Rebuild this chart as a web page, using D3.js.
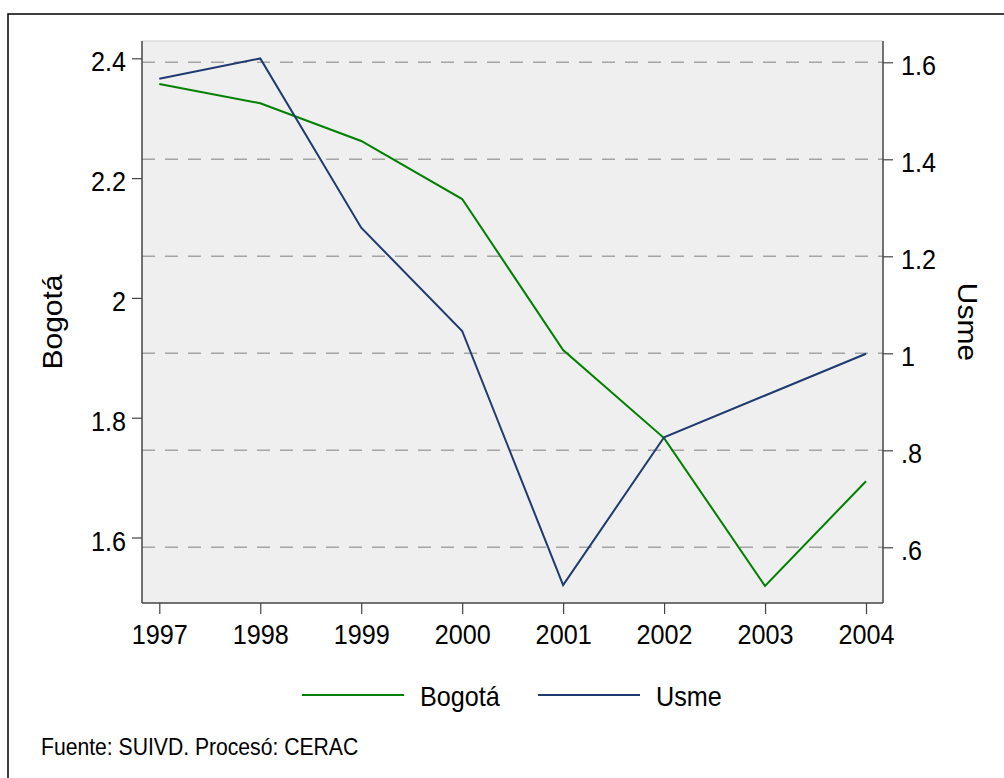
<!DOCTYPE html>
<html>
<head>
<meta charset="utf-8">
<script src="https://cdn.jsdelivr.net/npm/d3@7"></script>
<style>
  body { margin: 0; background: #fff; }
  text { font-family: "Liberation Sans", Arial, sans-serif; fill: #000; }
</style>
</head>
<body>
<div id="chart"></div>
<script>
// data
const years = [1997, 1998, 1999, 2000, 2001, 2002, 2003, 2004];
const bogota = [2.357, 2.325, 2.262, 2.165, 1.913, 1.766, 1.519, 1.694];
const usme = [1.566, 1.608, 1.259, 1.046, 0.522, 0.827, 0.913, 0.999];
const leftTicks = [1.6, 1.8, 2, 2.2, 2.4];
const rightTicks = [0.6, 0.8, 1, 1.2, 1.4, 1.6];
const seriesNames = ["Bogotá", "Usme"];

const W = 1004, H = 778;
const plot = { left: 142, top: 41, right: 883, bottom: 603 };
const sx = 0.9; // horizontal squeeze of the text

const svg = d3.select("#chart").append("svg")
    .attr("width", W)
    .attr("height", H);

// outer frame
svg.append("rect")
    .attr("x", 8).attr("y", 14)
    .attr("width", 1010).attr("height", 780)
    .attr("fill", "none")
    .attr("stroke", "#000")
    .attr("stroke-width", 1.5);

// plot region
svg.append("rect")
    .attr("x", plot.left).attr("y", plot.top)
    .attr("width", plot.right - plot.left)
    .attr("height", plot.bottom - plot.top)
    .attr("fill", "#efefef");
svg.append("line")
    .attr("x1", plot.left).attr("x2", plot.right)
    .attr("y1", plot.top).attr("y2", plot.top)
    .attr("stroke", "#cfcfcf");

// scales
const x = d3.scaleLinear().domain([1997, 2004]).range([159.3, 866]);
const yL = d3.scaleLinear().domain([1.6, 2.4]).range([537.5, 58.3]);
const yR = d3.scaleLinear().domain([0.6, 1.6]).range([547.3, 62.3]);

const fmtR = d => d3.format("")(+d.toFixed(1)).replace(/^0\./, ".");

// gridlines at right-axis ticks
svg.append("g")
    .selectAll("line")
    .data(rightTicks)
    .join("line")
    .attr("x1", plot.left).attr("x2", plot.right)
    .attr("y1", d => yR(d)).attr("y2", d => yR(d))
    .attr("stroke", "#a4a4a4")
    .attr("stroke-width", 1.5)
    .attr("stroke-dasharray", "13,10");

// left axis
const gL = svg.append("g")
    .attr("transform", `translate(${plot.left},0)`)
    .call(d3.axisLeft(yL).tickValues(leftTicks).tickSize(10).tickFormat(d3.format("")))
    .call(g => g.select(".domain").attr("d", `M0,${plot.top}V${plot.bottom}`));
gL.selectAll("text")
    .attr("x", 0).attr("dy", "0.45em")
    .attr("transform", `translate(-16,0) scale(${sx},1)`);

// right axis
const gR = svg.append("g")
    .attr("transform", `translate(${plot.right},0)`)
    .call(d3.axisRight(yR).tickValues(rightTicks).tickSize(10).tickFormat(fmtR))
    .call(g => g.select(".domain").attr("d", `M0,${plot.top}V${plot.bottom}`));
gR.selectAll("text")
    .attr("x", 0).attr("dy", "0.43em")
    .attr("transform", `translate(18,0) scale(${sx},1)`);

// bottom axis
const gB = svg.append("g")
    .attr("transform", `translate(0,${plot.bottom})`)
    .call(d3.axisBottom(x).tickValues(years).tickSize(11).tickFormat(d3.format("d")))
    .call(g => g.select(".domain").attr("d", `M${plot.left},0H${plot.right}`));
gB.selectAll("text")
    .attr("y", 0).attr("dy", 0)
    .attr("transform", `translate(0,40.5) scale(${sx},1)`);

svg.selectAll(".domain").attr("stroke", "#444").attr("stroke-width", 1.5);
svg.selectAll(".tick line").attr("stroke", "#444").attr("stroke-width", 1.2);
svg.selectAll(".tick text")
    .attr("font-size", 28)
    .attr("font-family", "Liberation Sans, Arial, sans-serif")
    .attr("fill", "#000");

// axis titles
svg.append("text")
    .attr("transform", `translate(62,${(plot.top + plot.bottom) / 2}) scale(${sx},1) rotate(-90)`)
    .attr("text-anchor", "middle")
    .attr("font-size", 30)
    .text(seriesNames[0]);
svg.append("text")
    .attr("transform", `translate(958,${(plot.top + plot.bottom) / 2}) scale(${sx},1) rotate(90)`)
    .attr("text-anchor", "middle")
    .attr("font-size", 30)
    .text(seriesNames[1]);

// lines
const colors = ["#008000", "#1e3a6e"];
const rows = years.map((yr, i) => ({ year: yr, b: bogota[i], u: usme[i] }));

svg.append("path")
    .datum(rows)
    .attr("fill", "none")
    .attr("stroke", colors[0])
    .attr("stroke-width", 2)
    .attr("d", d3.line().x(d => x(d.year)).y(d => yL(d.b)));

svg.append("path")
    .datum(rows)
    .attr("fill", "none")
    .attr("stroke", colors[1])
    .attr("stroke-width", 2)
    .attr("d", d3.line().x(d => x(d.year)).y(d => yR(d.u)));

// legend
const legendX = [302, 538];
const leg = svg.append("g");
seriesNames.forEach((name, i) => {
    leg.append("line")
        .attr("x1", legendX[i]).attr("x2", legendX[i] + 102)
        .attr("y1", 695).attr("y2", 695)
        .attr("stroke", colors[i])
        .attr("stroke-width", 2);
    leg.append("text")
        .attr("transform", `translate(${legendX[i] + 118},705.5) scale(${sx},1)`)
        .attr("font-size", 28)
        .text(name);
});

// note
svg.append("text")
    .attr("transform", `translate(41,754.5) scale(${sx},1)`)
    .attr("font-size", 23.5)
    .text("Fuente: SUIVD. Procesó: CERAC");
</script>
</body>
</html>
